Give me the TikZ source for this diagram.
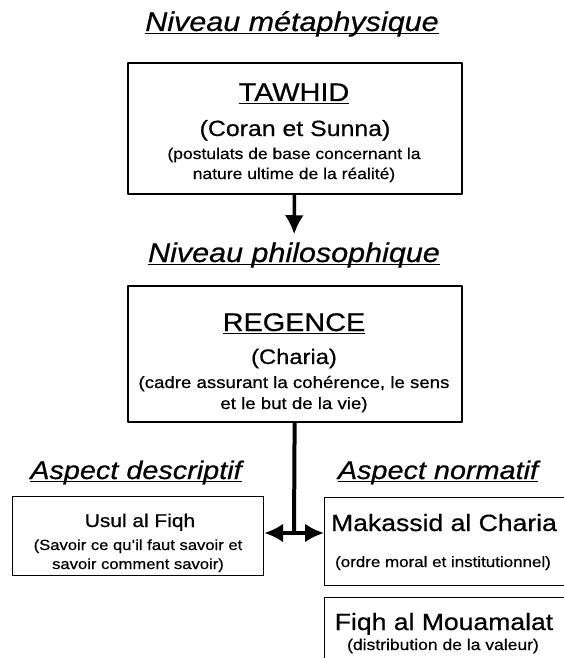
\documentclass[tikz,border=0pt]{standalone}
\usepackage{fontspec}
\setmainfont[FakeStretch=1.13,FakeBold=0.6]{Liberation Sans}
\usetikzlibrary{arrows.meta}

\newcommand{\fs}[1]{\fontsize{#1}{#1}\selectfont}

\tikzset{
  txt/.style={anchor=base,inner sep=0},
  niveau/.style={txt,font=\fs{27}\itshape,souligne=1.8pt},
  souligne/.style={append after command={\pgfextra{\draw[line width=#1]
      ([yshift=-2.5pt]\tikzlastnode.base west) -- ([yshift=-2.5pt]\tikzlastnode.base east);}}},
  bigbox/.style={draw,line width=2pt,minimum width=334,inner sep=0,anchor=north west},
  smallbox/.style={draw,line width=1.2pt,inner sep=0,anchor=north west}
}

\begin{document}
\begin{tikzpicture}[x=1pt,y=-1pt,line join=round,>={Latex[length=19pt,width=19pt]}]
\useasboundingbox (0,0) rectangle (564,658);

% niveau metaphysique
\node[niveau] (niv1) at (292,31) {Niveau métaphysique};
\node[bigbox,minimum height=131] (tawhid) at (127,62) {};
\node[txt,font=\fs{25.5},souligne=1.8pt] (tw1) at (294,101) {TAWHID};
\node[txt,font=\fs{22}] (tw2) at (295,136) {(Coran et Sunna)};
\node[txt,font=\fs{15.5}] (tw3) at (294,159) {(postulats de base concernant la};
\node[txt,font=\fs{15.5}] (tw4) at (294,179) {nature ultime de la réalité)};

% niveau philosophique
\node[niveau] (niv2) at (294,262) {Niveau philosophique};
\node[bigbox,minimum height=136] (regence) at (127,285) {};
\node[txt,font=\fs{25.5},souligne=1.8pt] (rg1) at (294,331) {REGENCE};
\node[txt,font=\fs{21}] (rg2) at (294,364) {(Charia)};
\node[txt,font=\fs{16.5}] (rg3) at (294,388) {(cadre assurant la cohérence, le sens};
\node[txt,font=\fs{16.5}] (rg4) at (294,409) {et le but de la vie)};

% aspects
\node[niveau,font=\fs{25.5}\itshape] (desc) at (136,479) {Aspect descriptif};
\node[niveau,font=\fs{25.5}\itshape] (norm) at (438,479) {Aspect normatif};

\node[smallbox,minimum width=251,minimum height=79] (usul) at (12,496) {};
\node[txt,font=\fs{18.5}] (us1) at (140,527) {Usul al Fiqh};
\node[txt,font=\fs{14.7}] (us2) at (138,550) {(Savoir ce qu'il faut savoir et};
\node[txt,font=\fs{14.7}] (us3) at (138,569) {savoir comment savoir)};

\node[smallbox,minimum width=260,minimum height=88] (mak) at (324,497) {};
\node[txt,font=\fs{23.5}] (mk1) at (444,531) {Makassid al Charia};
\node[txt,font=\fs{15}] (mk2) at (443,567) {(ordre moral et institutionnel)};

\node[smallbox,minimum width=260,minimum height=90] (fiqh) at (324,597) {};
\node[txt,font=\fs{23.5}] (fq1) at (444,630) {Fiqh al Mouamalat};
\node[txt,font=\fs{15.5}] (fq2) at (443,650) {(distribution de la valeur)};

% connecteurs
\coordinate (j) at (294,533);
\draw[->,line width=3.5pt,shorten >=8pt] (tawhid) -- (niv2);
\draw[line width=4pt] (regence) -- (j);
\draw[<->,line width=4pt] (j -| usul.east) -- (j -| mak.west);
\end{tikzpicture}
\end{document}
